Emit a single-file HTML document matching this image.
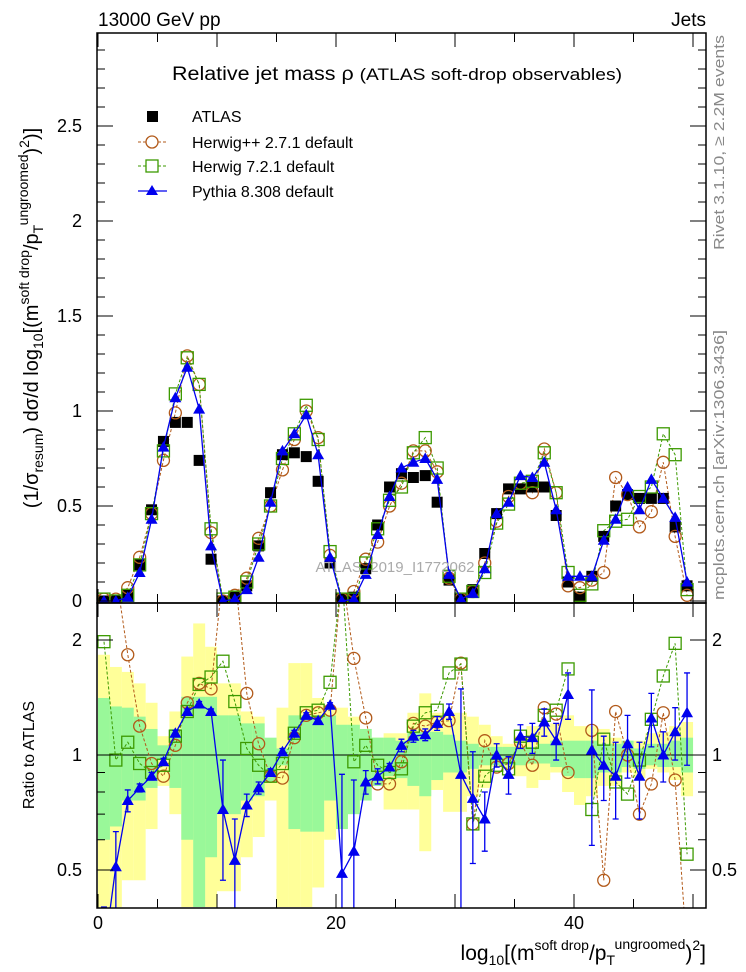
<!DOCTYPE html>
<html><head><meta charset="utf-8"><style>
html,body{margin:0;padding:0;background:#fff;width:746px;height:972px;overflow:hidden;}
svg{display:block;font-family:"Liberation Sans",sans-serif;}
</style></head><body>
<svg id="chart" width="746" height="972" viewBox="0 0 746 972" xmlns="http://www.w3.org/2000/svg">
<g id="bands"></g>
<g id="marks"></g>
<g id="axes"></g>
<text x="98" y="26" font-size="19">13000 GeV pp</text>
<text x="706" y="26" font-size="19" text-anchor="end">Jets</text>
<text x="172" y="80" font-size="19" textLength="450" lengthAdjust="spacingAndGlyphs">Relative jet mass  ρ <tspan font-size="17">(ATLAS soft-drop observables)</tspan></text>
<text x="395" y="572" font-size="15" fill="#aaa" text-anchor="middle">ATLAS_2019_I1772062</text>
<g>
 <rect x="147" y="111" width="11" height="11" fill="#000"/>
 <text x="192" y="122" font-size="16">ATLAS</text>
 <line x1="138" y1="142" x2="167" y2="142" stroke="#b25a1a" stroke-dasharray="3,2"/>
 <circle cx="152" cy="142" r="6" fill="#fff" stroke="#b25a1a" stroke-width="1.3"/>
 <text x="192" y="148" font-size="16">Herwig++ 2.7.1 default</text>
 <line x1="138" y1="166" x2="167" y2="166" stroke="#3c9a00" stroke-dasharray="3,2"/>
 <rect x="146" y="160" width="12" height="12" fill="#fff" stroke="#3c9a00" stroke-width="1.3"/>
 <text x="192" y="172" font-size="16">Herwig 7.2.1 default</text>
 <line x1="138" y1="191" x2="167" y2="191" stroke="#0000ee" stroke-width="1.3"/>
 <polygon points="152,185 158,195 146,195" fill="#0000ee"/>
 <text x="192" y="197" font-size="16">Pythia 8.308 default</text>
</g>
<text transform="translate(38,318) rotate(-90)" font-size="20" text-anchor="middle">(1/σ<tspan font-size="14" dy="5">resum</tspan><tspan dy="-5">) dσ/d log</tspan><tspan font-size="14" dy="5">10</tspan><tspan dy="-5">[(m</tspan><tspan font-size="14" dy="-9">soft drop</tspan><tspan dy="9">/p</tspan><tspan font-size="14" dy="5">T</tspan><tspan font-size="14" dy="-15">ungroomed</tspan><tspan dy="10">)</tspan><tspan font-size="14" dy="-9">2</tspan><tspan dy="9">)]</tspan></text>
<text transform="translate(34,755) rotate(-90)" font-size="16" text-anchor="middle">Ratio to ATLAS</text>
<text transform="translate(724,250) rotate(-90)" font-size="15" fill="#888" textLength="215" lengthAdjust="spacingAndGlyphs">Rivet 3.1.10, ≥ 2.2M events</text>
<text transform="translate(724,600) rotate(-90)" font-size="15" fill="#888" textLength="270" lengthAdjust="spacingAndGlyphs">mcplots.cern.ch [arXiv:1306.3436]</text>
<text x="706" y="960" font-size="21" text-anchor="end">log<tspan font-size="14" dy="5">10</tspan><tspan dy="-5">[(m</tspan><tspan font-size="14" dy="-10">soft drop</tspan><tspan dy="10">/p</tspan><tspan font-size="14" dy="5">T</tspan><tspan font-size="14" dy="-16">ungroomed</tspan><tspan dy="11">)</tspan><tspan font-size="14" dy="-10">2</tspan><tspan dy="10">]</tspan></text>
</svg>
<script>
var atlas = [0,0,0.03,0.19,0.48,0.84,0.94,0.94,0.74,0.22,0,0.02,0.08,0.29,0.57,0.77,0.78,0.76,0.63,0.2,0.01,0.02,0.17,0.40,0.60,0.67,0.65,0.66,0.52,0.11,0.01,0.06,0.25,0.46,0.59,0.59,0.60,0.60,0.45,0.10,0.02,0.13,0.34,0.50,0.56,0.54,0.54,0.54,0.39,0.08];
var pythia = [0,0,0.02,0.15,0.43,0.81,1.07,1.23,1.01,0.29,0,0.01,0.06,0.23,0.52,0.79,0.88,0.98,0.77,0.23,0,0.01,0.14,0.35,0.55,0.70,0.73,0.75,0.64,0.14,0.01,0.04,0.17,0.46,0.52,0.66,0.65,0.73,0.48,0.13,0.13,0.13,0.32,0.43,0.60,0.48,0.64,0.54,0.44,0.10];
var herwigpp = [0.01,0.01,0.07,0.23,0.46,0.74,0.99,1.29,1.14,0.36,0,0.03,0.12,0.33,0.50,0.69,0.85,1.00,0.86,0.24,0.01,0.05,0.22,0.31,0.50,0.62,0.79,0.79,0.68,0.12,0.01,0.05,0.20,0.42,0.55,0.62,0.57,0.80,0.57,0.08,0.07,0.11,0.15,0.65,0.56,0.39,0.47,0.73,0.34,0.03];
var herwig7 = [0.01,0,0.03,0.19,0.46,0.79,1.09,1.28,1.14,0.38,0.01,0.02,0.10,0.30,0.50,0.75,0.88,1.03,0.85,0.26,0.01,0.01,0.20,0.38,0.53,0.60,0.78,0.86,0.70,0.13,0.01,0.05,0.15,0.41,0.51,0.62,0.63,0.78,0.57,0.15,0.03,0.09,0.37,0.42,0.43,0.55,0.60,0.88,0.77,0.06];
var pythiaRatio = [0.3,0.51,0.76,0.82,0.88,0.96,1.14,1.30,1.36,1.30,0.72,0.53,0.74,0.82,0.90,1.02,1.14,1.27,1.23,1.35,0.49,0.56,0.85,0.88,0.93,1.06,1.12,1.13,1.21,1.30,0.89,0.77,0.68,1.0,0.89,1.12,1.11,1.22,1.09,1.44,null,1.03,0.94,0.88,1.07,0.88,1.25,1.0,1.15,1.29];
var pythiaRatioErr = [0.1,0.12,0.05,0.02,0.02,0.02,0.02,0.02,0.02,0.02,0.25,0.15,0.05,0.03,0.02,0.02,0.02,0.02,0.02,0.02,0.4,0.3,0.06,0.04,0.02,0.04,0.04,0.04,0.05,0.06,0.6,0.25,0.12,0.07,0.1,0.08,0.1,0.1,0.12,0.2,0,0.45,0.18,0.2,0.2,0.2,0.2,0.15,0.18,0.35];
var herwigppRatio = [3,3,1.83,1.19,0.95,0.88,1.06,1.37,1.54,1.49,3,3,1.45,1.07,0.88,0.87,1.11,1.27,1.29,1.31,3,1.79,1.25,0.84,0.84,0.96,1.21,1.19,1.22,1.23,1.74,0.66,1.09,0.93,0.95,1.08,0.94,1.33,1.28,0.90,null,1.16,0.47,1.30,1.0,0.70,0.84,1.29,0.86,0.3];
var herwig7Ratio = [1.98,0.97,1.08,0.95,0.90,0.94,1.12,1.30,1.53,1.60,1.76,1.38,1.04,0.94,0.88,0.95,1.14,1.29,1.31,1.55,3,0.96,1.06,0.94,0.90,0.92,1.19,1.29,1.31,1.64,1.73,0.66,0.88,0.94,0.92,1.12,1.08,1.27,1.31,1.68,null,0.72,1.10,0.85,0.79,0.97,1.24,1.61,1.96,0.55];
var innerHi = [1.41,1.34,1.33,1.26,1.17,1.06,1.17,1.42,1.42,1.42,1.27,1.27,1.21,1.21,1.11,1.04,1.27,1.27,1.27,1.27,1.20,1.20,1.17,1.11,1.11,1.09,1.15,1.15,1.15,1.13,1.09,1.07,1.05,1.05,1.05,1.05,1.05,1.07,1.09,1.09,1.09,1.09,1.07,1.07,1.09,1.04,1.07,1.07,1.09,1.11];
var innerLo = [0.60,0.65,0.76,0.76,0.82,0.97,0.82,0.60,0.40,0.54,0.70,0.70,0.76,0.78,0.85,0.94,0.64,0.63,0.63,0.76,0.64,0.70,0.76,0.83,0.88,0.87,0.83,0.78,0.86,0.90,0.90,0.92,0.94,0.94,0.94,0.94,0.95,0.95,0.93,0.88,0.87,0.87,0.90,0.90,0.93,0.92,0.94,0.93,0.93,0.90];
var outerHi = [1.83,1.70,1.65,1.54,1.37,1.12,1.30,1.81,2.21,1.92,1.54,1.54,1.30,1.26,1.06,1.33,1.74,1.74,1.41,1.33,1.33,1.26,1.11,1.11,1.14,1.14,1.29,1.45,1.29,1.29,1.29,1.26,1.20,1.12,1.07,1.12,1.19,1.19,1.21,1.27,1.19,1.19,1.17,1.11,1.09,1.09,1.14,1.15,1.19,1.22];
var outerLo = [0.4,0.4,0.47,0.47,0.64,0.83,0.70,0.4,0.4,0.4,0.44,0.44,0.54,0.61,0.76,0.4,0.4,0.4,0.45,0.60,0.70,0.71,0.85,0.88,0.72,0.72,0.72,0.56,0.81,0.71,0.71,0.78,0.82,0.93,0.92,0.88,0.82,0.86,0.90,0.80,0.74,0.78,0.83,0.83,0.90,0.87,0.92,0.90,0.86,0.78];
var xTickLabels = [0,20,40];
var yTickLabels = [0,0.5,1,1.5,2,2.5];
var rTickLabels = [0.5,1,2];

var NS = "http://www.w3.org/2000/svg";
var L = 97, R = 706, T = 33, MID = 603, B = 908;
function X(v){ return 98 + 11.9 * v; }
function Y(v){ return 601 - 190 * v; }
function RY(r){ return 755 - 115 * Math.log(r) / Math.LN2; }
function el(tag, attrs, parent){ var e = document.createElementNS(NS, tag); for (var k in attrs) e.setAttribute(k, attrs[k]); parent.appendChild(e); return e; }
var bands = document.getElementById('bands'), marks = document.getElementById('marks'), axes = document.getElementById('axes');
function clampR(r){ return Math.max(MID, Math.min(B, RY(r))); }

for (var i = 0; i < atlas.length; i++) {
  var y1 = clampR(outerHi[i]), y2 = clampR(outerLo[i]);
  var b = el('rect', {x: X(i), y: y1, width: 11.95, height: y2 - y1, fill: '#ffff99'}, bands);
  
  
}
for (var i = 0; i < atlas.length; i++) {
  var y1 = clampR(innerHi[i]), y2 = clampR(innerLo[i]);
  var g = el('rect', {x: X(i), y: y1, width: 11.95, height: y2 - y1, fill: '#99f899'}, bands);
  
  
}
var unity = el('line', {x1: L, x2: R, y1: RY(1), y2: RY(1), stroke: '#000', 'stroke-width': 1}, bands);



var defs = el('defs', {}, document.getElementById('chart'));
var c1 = el('clipPath', {id: 'clipTop'}, defs); el('rect', {x: L, y: T, width: R - L, height: MID - T}, c1);
var c2 = el('clipPath', {id: 'clipBot'}, defs); el('rect', {x: L, y: MID, width: R - L, height: B - MID}, c2);
var gTop = el('g', {'clip-path': 'url(#clipTop)'}, marks);


var gBot = el('g', {'clip-path': 'url(#clipBot)'}, marks);



function drawLine(arr, yf, color, dash, parent, name, width) {
  var segs = [], cur = [];
  for (var i = 0; i < arr.length; i++) {
    if (arr[i] === null) { if (cur.length) segs.push(cur); cur = []; continue; }
    cur.push(X(i + 0.5).toFixed(1) + ',' + yf(arr[i]).toFixed(1));
  }
  if (cur.length) segs.push(cur);
  segs.forEach(function(s){
    var p = el('polyline', {points: s.join(' '), fill: 'none', stroke: color, 'stroke-width': width || 1}, parent);
    if (dash) p.setAttribute('stroke-dasharray', dash);
    
    
  });
}
function circle(cx, cy, parent, name) {
  var c = el('circle', {cx: cx, cy: cy, r: 6, fill: 'none', stroke: '#b25a1a', 'stroke-width': 1.3}, parent);
  
  
}
function square(cx, cy, parent, name) {
  var s = el('rect', {x: cx - 6, y: cy - 6, width: 12, height: 12, fill: 'none', stroke: '#3c9a00', 'stroke-width': 1.3}, parent);
  
  
}
function tri(cx, cy, parent, name) {
  var t = el('polygon', {points: cx + ',' + (cy - 6) + ' ' + (cx + 6) + ',' + (cy + 4.5) + ' ' + (cx - 6) + ',' + (cy + 4.5), fill: '#0000ee'}, parent);
  
  
}

drawLine(herwigpp, Y, '#b25a1a', '3,2', gTop, 'herwigpp-line');
drawLine(herwig7, Y, '#3c9a00', '3,2', gTop, 'herwig7-line');
for (var i = 0; i < atlas.length; i++) {
  var a = el('rect', {x: X(i + 0.5) - 5.5, y: Y(atlas[i]) - 5.5, width: 11, height: 11, fill: '#000'}, gTop);
  
  
}
for (var i = 0; i < atlas.length; i++) {
  circle(X(i + 0.5), Y(herwigpp[i]), gTop, 'herwigpp-point');
  square(X(i + 0.5), Y(herwig7[i]), gTop, 'herwig7-point');
}
drawLine(pythia, Y, '#0000ee', null, gTop, 'pythia-line', 1.3);
for (var i = 0; i < atlas.length; i++) tri(X(i + 0.5), Y(pythia[i]), gTop, 'pythia-point');

drawLine(herwigppRatio, RY, '#b25a1a', '3,2', gBot, 'herwigpp-ratio-line');
drawLine(herwig7Ratio, RY, '#3c9a00', '3,2', gBot, 'herwig7-ratio-line');
for (var i = 0; i < atlas.length; i++) {
  if (herwigppRatio[i] !== null) circle(X(i + 0.5), RY(herwigppRatio[i]), gBot, 'herwigpp-ratio-point');
  if (herwig7Ratio[i] !== null) square(X(i + 0.5), RY(herwig7Ratio[i]), gBot, 'herwig7-ratio-point');
}
drawLine(pythiaRatio, RY, '#0000ee', null, gBot, 'pythia-ratio-line', 1.3);
for (var i = 0; i < atlas.length; i++) {
  var r = pythiaRatio[i];
  if (r === null) continue;
  var e = pythiaRatioErr[i];
  if (e > 0) {
    var cx = X(i + 0.5), yt = RY(r + e), yb = RY(Math.max(0.05, r - e));
    var eb = el('path', {d: 'M' + cx + ',' + yt + 'V' + yb + 'M' + (cx - 3) + ',' + yt + 'H' + (cx + 3) + 'M' + (cx - 3) + ',' + yb + 'H' + (cx + 3), stroke: '#0000ee', 'stroke-width': 1.3, fill: 'none'}, gBot);
    
    
  }
  tri(X(i + 0.5), RY(r), gBot, 'pythia-ratio-point');
}

var f1 = el('rect', {x: L, y: T, width: R - L, height: MID - T, fill: 'none', stroke: '#000', 'stroke-width': 1.5}, axes);


var f2 = el('rect', {x: L, y: MID, width: R - L, height: B - MID, fill: 'none', stroke: '#000', 'stroke-width': 1.5}, axes);


var d = '';
for (var v = 0; v <= 51; v += 5) {
  var x = X(v), len = (v % 10 === 0) ? 14 : 9;
  d += 'M' + x + ',' + MID + 'v-' + len + 'M' + x + ',' + T + 'v' + len + 'M' + x + ',' + B + 'v-' + len + 'M' + x + ',' + MID + 'v' + len;
}
for (var k = 0; k <= 29; k++) {
  var yv = Y(k / 10), len = (k % 5 === 0) ? 16 : 8;
  if (yv < T) continue;
  d += 'M' + L + ',' + yv + 'h' + len + 'M' + R + ',' + yv + 'h-' + len;
}
[0.5, 0.6, 0.7, 0.8, 0.9, 1, 2].forEach(function(r){
  var yv = RY(r), len = (r === 0.5 || r === 1 || r === 2) ? 16 : 8;
  d += 'M' + L + ',' + yv + 'h' + len + 'M' + R + ',' + yv + 'h-' + len;
});
var tk = el('path', {d: d, stroke: '#000', 'stroke-width': 1, fill: 'none'}, axes);


xTickLabels.forEach(function(v){
  var t = el('text', {x: X(v), y: 929, 'font-size': 18, 'text-anchor': 'middle'}, axes);
  t.textContent = v;
  
  
});
yTickLabels.forEach(function(v){
  var t = el('text', {x: 82, y: Y(v) + 6, 'font-size': 18, 'text-anchor': 'end'}, axes);
  t.textContent = v;
  
  
});
rTickLabels.forEach(function(v){
  var t = el('text', {x: 82, y: RY(v) + 6, 'font-size': 18, 'text-anchor': 'end'}, axes);
  t.textContent = v;
  
  
  var t2 = el('text', {x: 712, y: RY(v) + 6, 'font-size': 18}, axes);
  t2.textContent = v;
  
  
});
</script>
</body></html>
